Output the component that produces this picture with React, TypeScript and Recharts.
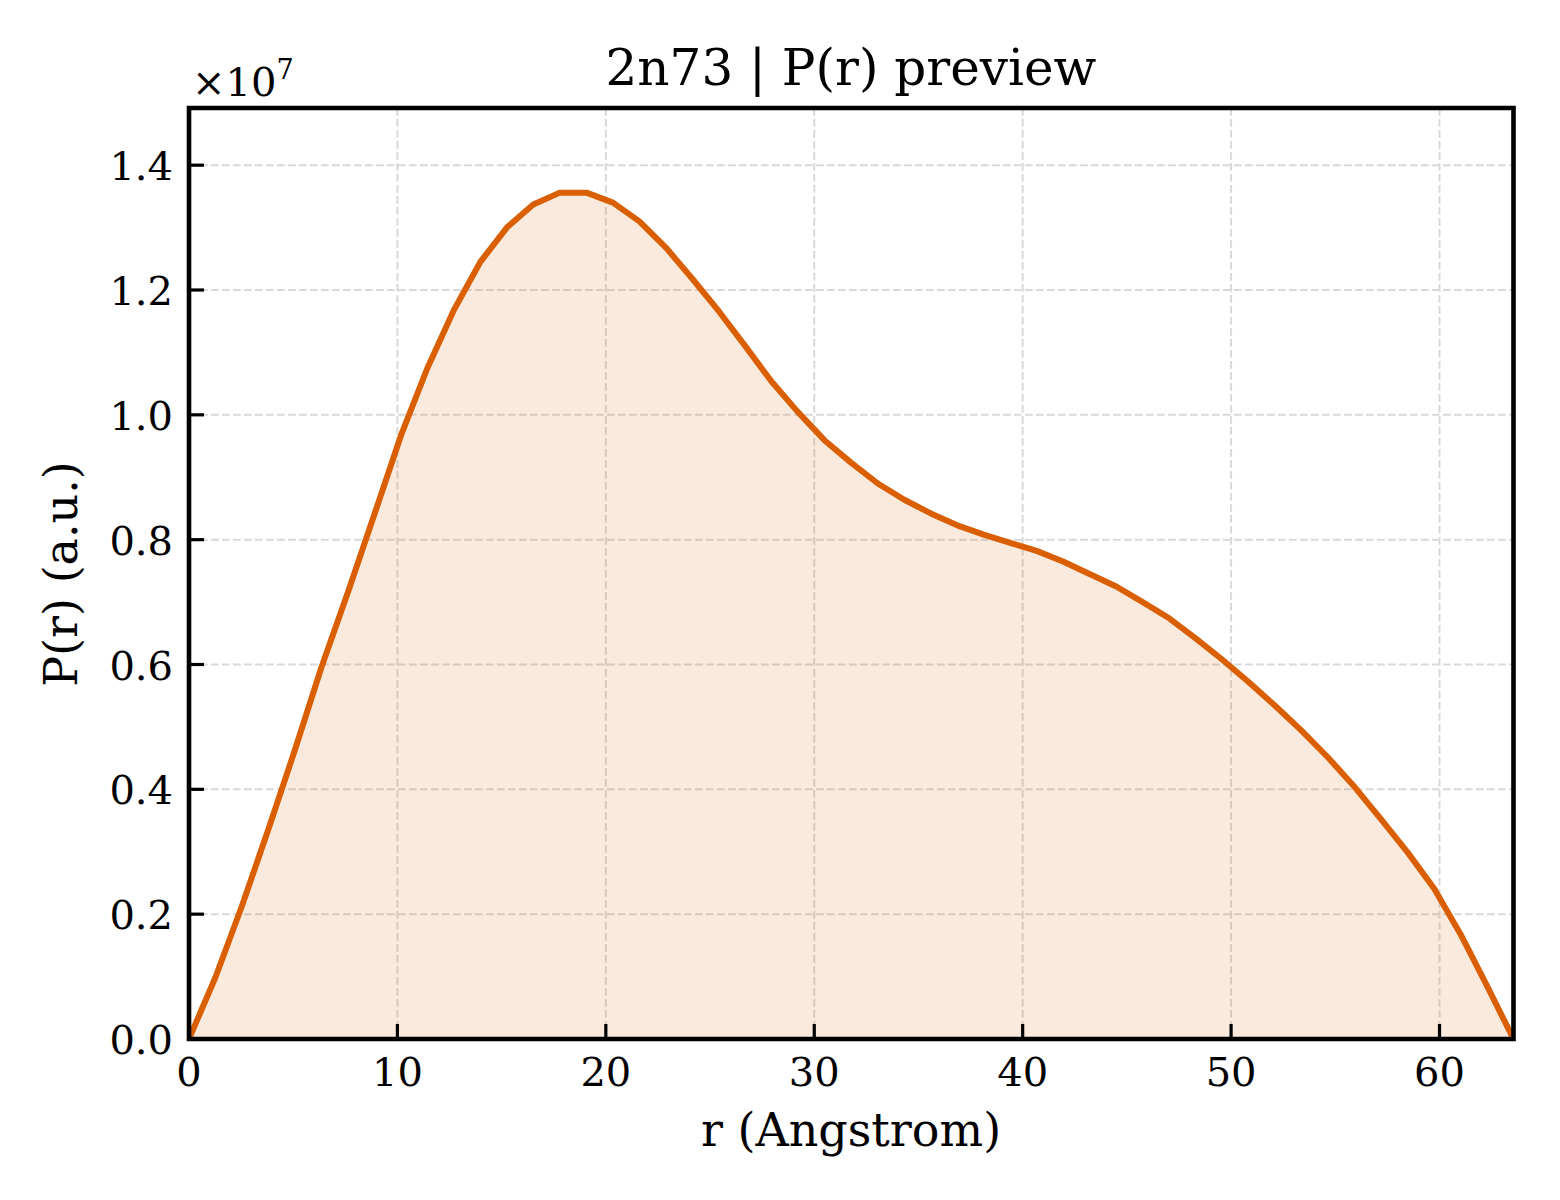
import React from 'react';
import { ComposedChart, Area, XAxis, YAxis, CartesianGrid, ReferenceArea } from 'recharts';

const rValues = [
  0, 1.27, 2.54, 3.81, 5.08, 6.36, 7.63, 8.9, 10.17, 11.44,
  12.71, 13.98, 15.25, 16.52, 17.79, 19.07, 20.34, 21.61, 22.88, 24.15,
  25.42, 26.69, 27.96, 29.23, 30.5, 31.78, 33.05, 34.32, 35.59, 36.86,
  38.13, 39.4, 40.67, 41.94, 43.21, 44.49, 45.76, 47.03, 48.3, 49.57,
  50.84, 52.11, 53.38, 54.65, 55.92, 57.2, 58.47, 59.74, 61.01, 62.28,
  63.55,
];

const pValues = [
  0, 990000, 2130000, 3360000, 4630000, 5960000, 7160000, 8410000, 9670000, 10750000,
  11680000, 12450000, 13000000, 13370000, 13560000, 13560000, 13400000, 13100000, 12680000, 12180000,
  11660000, 11100000, 10530000, 10040000, 9590000, 9230000, 8900000, 8640000, 8420000, 8230000,
  8080000, 7950000, 7820000, 7650000, 7450000, 7250000, 7000000, 6740000, 6420000, 6080000,
  5720000, 5340000, 4940000, 4510000, 4040000, 3520000, 2990000, 2410000, 1680000, 850000,
  0,
];

const xTicks = [0, 10, 20, 30, 40, 50, 60];
const yTicks = [0, 2000000, 4000000, 6000000, 8000000, 10000000, 12000000, 14000000];

const titleText = '2n73 | P(r) preview';
const xLabelText = 'r (Angstrom)';
const yLabelText = 'P(r) (a.u.)';

const data = rValues.map((r, i) => ({ r, p: pValues[i] }));
const yMax = Math.max(...pValues) * 1.1;
const xMax = rValues[rValues.length - 1];

const FONT = '"DejaVu Serif", serif';
const ORANGE = '#d95f02';

const XTick = (props: any) => {
  const { x, y, payload } = props;
  return (
    <text x={x} y={y + 47} textAnchor="middle" fontFamily={FONT} fontSize={40} fill="#000">
      {payload.value}
    </text>
  );
};

const YTick = (props: any) => {
  const { x, y, payload } = props;
  return (
    <text x={x - 16} y={y + 15} textAnchor="end" fontFamily={FONT} fontSize={40} fill="#000">
      {(payload.value / 1e7).toFixed(1)}
    </text>
  );
};

export default function App() {
  return (
    <div style={{ position: 'absolute', left: 0, top: 0, width: 1560, height: 1200, background: '#fff' }}>
      <ComposedChart
        width={1560}
        height={1200}
        data={data}
        margin={{ top: 108, right: 46.5, bottom: 61, left: 89 }}
      >
        <CartesianGrid
          stroke="#d9d9d9"
          strokeWidth={2}
          strokeDasharray="7.7 3.3"
        />
        <XAxis
          dataKey="r"
          type="number"
          domain={[0, xMax]}
          ticks={xTicks}
          allowDataOverflow
          height={100}
          tickSize={-15}
          tickMargin={15}
          tickLine={{ stroke: '#000', strokeWidth: 3.2 }}
          tick={<XTick />}
          axisLine={false}
          interval={0}
        />
        <YAxis
          type="number"
          domain={[0, yMax]}
          ticks={yTicks}
          allowDataOverflow
          width={100}
          tickSize={-15}
          tickMargin={15}
          tickLine={{ stroke: '#000', strokeWidth: 3.2 }}
          tick={<YTick />}
          axisLine={false}
          interval={0}
        />
        <Area
          type="linear"
          dataKey="p"
          stroke={ORANGE}
          strokeWidth={6}
          strokeLinejoin="round"
          strokeLinecap="butt"
          fill={ORANGE}
          fillOpacity={0.13}
          baseValue={0}
          dot={false}
          activeDot={false}
          isAnimationActive={false}
        />
        <ReferenceArea
          x1={0}
          x2={xMax}
          y1={0}
          y2={yMax}
          stroke="#000"
          strokeWidth={4.6}
          fill="none"
          fillOpacity={0}
          ifOverflow="visible"
        />
      </ComposedChart>
      <svg
        width={1560}
        height={1200}
        style={{ position: 'absolute', left: 0, top: 0, pointerEvents: 'none' }}
      >
        <text x={851} y={85} textAnchor="middle" fontFamily={FONT} fontSize={50} fill="#000">
          {titleText}
        </text>
        <text x={851} y={1146} textAnchor="middle" fontFamily={FONT} fontSize={46} fill="#000">
          {xLabelText}
        </text>
        <text
          x={77}
          y={574}
          textAnchor="middle"
          fontFamily={FONT}
          fontSize={46}
          fill="#000"
          transform="rotate(-90 77 574)"
        >
          {yLabelText}
        </text>
        <text x={192} y={96} fontFamily={FONT} fontSize={40} fill="#000">
          ×10
          <tspan dy={-17} fontSize={27}>7</tspan>
        </text>
      </svg>
    </div>
  );
}
